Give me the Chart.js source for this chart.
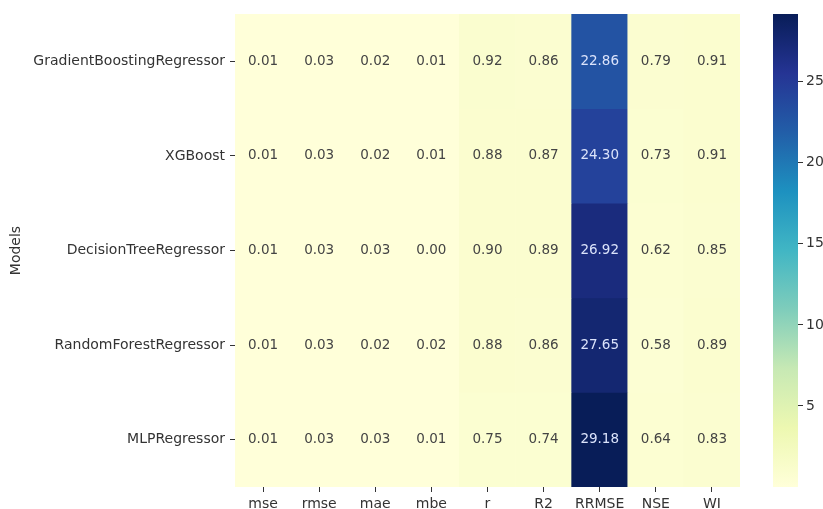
<!DOCTYPE html>
<html>
<head>
<meta charset="utf-8">
<script src="https://cdn.jsdelivr.net/npm/chart.js@4"></script>
<style>
  html, body { margin: 0; padding: 0; background: #ffffff; }
  #wrap { position: relative; width: 823px; height: 509px; overflow: hidden; }
  #heat { position: absolute; left: 0; top: 0; }
  #cbar { position: absolute; left: 760px; top: 0; }
</style>
</head>
<body>
<div id="wrap">
  <canvas id="heat" width="760" height="509"></canvas>
  <canvas id="cbar" width="63" height="509"></canvas>
</div>
<script>
// Metric columns and model rows
const metrics = ['mse', 'rmse', 'mae', 'mbe', 'r', 'R2', 'RRMSE', 'NSE', 'WI'];
const models = ['GradientBoostingRegressor', 'XGBoost', 'DecisionTreeRegressor', 'RandomForestRegressor', 'MLPRegressor'];

// Scores per model, in metric order
const gbr = [0.01, 0.03, 0.02, 0.01, 0.92, 0.86, 22.86, 0.79, 0.91];
const xgb = [0.01, 0.03, 0.02, 0.01, 0.88, 0.87, 24.30, 0.73, 0.91];
const dtr = [0.01, 0.03, 0.03, 0.00, 0.90, 0.89, 26.92, 0.62, 0.85];
const rfr = [0.01, 0.03, 0.02, 0.02, 0.88, 0.86, 27.65, 0.58, 0.89];
const mlp = [0.01, 0.03, 0.03, 0.01, 0.75, 0.74, 29.18, 0.64, 0.83];
const rows = [gbr, xgb, dtr, rfr, mlp];

// Colour bar ticks
const cbarTicks = [5, 10, 15, 20, 25];

// YlGnBu colour map anchors
const YLGNBU = ['#ffffd9', '#edf8b1', '#c7e9b4', '#7fcdbb', '#41b6c4', '#1d91c0', '#225ea8', '#253494', '#081d58'];

const allValues = rows.flat();
const vmin = Math.min(...allValues);
const vmax = Math.max(...allValues);

const FONT = { family: "'DejaVu Sans', sans-serif", size: 14 };
const INK = '#333333';

function hexToRgb(h) {
  const n = parseInt(h.slice(1), 16);
  return [(n >> 16) & 255, (n >> 8) & 255, n & 255];
}
const anchors = YLGNBU.map(hexToRgb);

function colourFor(v) {
  let t = (v - vmin) / (vmax - vmin);
  t = Math.max(0, Math.min(1, t));
  const p = t * (anchors.length - 1);
  const i = Math.min(Math.floor(p), anchors.length - 2);
  const f = p - i;
  const a = anchors[i], b = anchors[i + 1];
  return [0, 1, 2].map(k => Math.round(a[k] + (b[k] - a[k]) * f));
}
function rgbStr(c) { return 'rgb(' + c[0] + ',' + c[1] + ',' + c[2] + ')'; }

function luminance(c) {
  const lin = c.map(x => {
    x = x / 255;
    return x <= 0.03928 ? x / 12.92 : Math.pow((x + 0.055) / 1.055, 2.4);
  });
  return 0.2126 * lin[0] + 0.7152 * lin[1] + 0.0722 * lin[2];
}

// One floating-bar dataset per model row; each bar covers one cell
const datasets = rows.map((vals, r) => ({
  label: models[r],
  data: vals.map(() => [r, r + 1]),
  values: vals,
  backgroundColor: vals.map(v => rgbStr(colourFor(v))),
  borderWidth: 0,
  grouped: false,
  barPercentage: 1,
  categoryPercentage: 1
}));

// Writes each cell's value at the centre of its bar
const cellLabels = {
  id: 'cellLabels',
  afterDatasetsDraw(chart) {
    const ctx = chart.ctx;
    ctx.save();
    ctx.font = '13.5px ' + FONT.family;
    ctx.textAlign = 'center';
    ctx.textBaseline = 'middle';
    chart.data.datasets.forEach((ds, di) => {
      const meta = chart.getDatasetMeta(di);
      meta.data.forEach((bar, i) => {
        const v = ds.values[i];
        const bg = colourFor(v);
        ctx.fillStyle = luminance(bg) > 0.408 ? '#444444' : '#dbe3fb';
        ctx.fillText(v.toFixed(2), bar.x, (bar.y + bar.base) / 2);
      });
    });
    ctx.restore();
  }
};

new Chart(document.getElementById('heat'), {
  type: 'bar',
  data: { labels: metrics, datasets },
  plugins: [cellLabels],
  options: {
    responsive: false,
    animation: false,
    layout: { padding: { left: 0, right: 20, top: 14, bottom: 0 } },
    plugins: { legend: { display: false }, tooltip: { enabled: false } },
    scales: {
      x: {
        type: 'category',
        offset: true,
        grid: { offset: false, drawOnChartArea: false, drawTicks: true, tickLength: 5, color: INK, lineWidth: 1 },
        border: { display: false },
        ticks: { color: INK, font: FONT, padding: 4, maxRotation: 0, autoSkip: false },
        afterFit(scale) { scale.height = 22; }
      },
      y: {
        type: 'linear',
        min: 0,
        max: models.length,
        reverse: true,
        grid: { drawOnChartArea: false, drawTicks: true, tickLength: 5, color: INK, lineWidth: 1 },
        border: { display: false },
        afterBuildTicks(scale) {
          scale.ticks = models.map((m, i) => ({ value: i + 0.5 }));
        },
        ticks: {
          color: INK,
          font: FONT,
          padding: 5,
          autoSkip: false,
          callback: (value, index) => models[index]
        },
        title: { display: true, text: 'Models', color: INK, font: FONT, padding: { top: 8, bottom: 0 } },
        afterFit(scale) { scale.width = 235; }
      }
    }
  }
});

// Colour bar: a single floating bar filled with the colour map
new Chart(document.getElementById('cbar'), {
  type: 'bar',
  data: {
    labels: [''],
    datasets: [{
      data: [[vmin, vmax]],
      borderWidth: 0,
      barPercentage: 1,
      categoryPercentage: 1,
      backgroundColor(ctx) {
        const chart = ctx.chart;
        const y = chart.scales.y;
        if (!chart.chartArea || !y) return YLGNBU[0];
        const g = chart.ctx.createLinearGradient(0, y.getPixelForValue(vmin), 0, y.getPixelForValue(vmax));
        YLGNBU.forEach((c, i) => g.addColorStop(i / (YLGNBU.length - 1), c));
        return g;
      }
    }]
  },
  options: {
    responsive: false,
    animation: false,
    layout: { padding: { left: 13, right: 0, top: 14, bottom: 22 } },
    plugins: { legend: { display: false }, tooltip: { enabled: false } },
    scales: {
      x: { display: false },
      y: {
        position: 'right',
        min: vmin,
        max: vmax,
        grid: { drawOnChartArea: false, drawTicks: true, tickLength: 5, color: INK, lineWidth: 1 },
        border: { display: false },
        afterBuildTicks(scale) {
          scale.ticks = cbarTicks.map(v => ({ value: v }));
        },
        ticks: { color: INK, font: FONT, padding: 3, autoSkip: false },
        afterFit(scale) { scale.width = 25; }
      }
    }
  }
});
</script>
</body>
</html>
